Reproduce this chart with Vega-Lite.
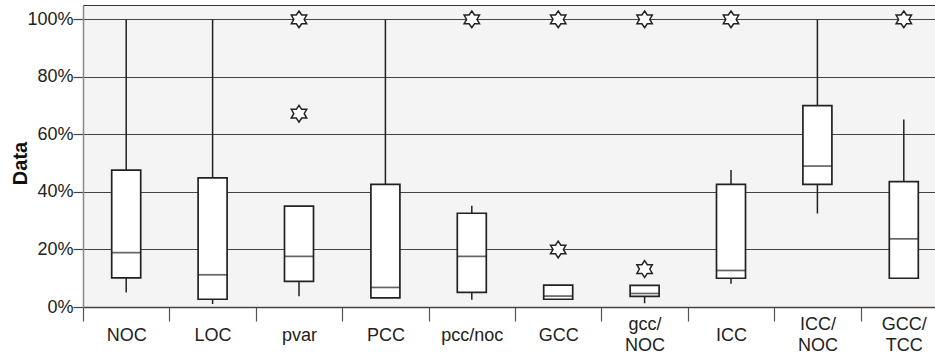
{
  "$schema": "https://vega.github.io/schema/vega-lite/v6.json",
  "autosize": "none",
  "width": 852,
  "height": 302,
  "padding": {"left": 83, "top": 5, "right": 0, "bottom": 51},
  "background": "white",
  "config": {
    "view": {"fill": "#f4f4f4", "stroke": "#333", "strokeWidth": 1},
    "font": "Liberation Sans"
  },
  "datasets": {
    "boxes": [
      {"cat": "NOC", "lo": 0.05, "q1": 0.101, "med": 0.189, "q3": 0.476, "hi": 1.0},
      {"cat": "LOC", "lo": 0.01, "q1": 0.027, "med": 0.112, "q3": 0.449, "hi": 1.0},
      {"cat": "pvar", "lo": 0.037, "q1": 0.089, "med": 0.176, "q3": 0.351, "hi": 0.351},
      {"cat": "PCC", "lo": 0.032, "q1": 0.032, "med": 0.068, "q3": 0.426, "hi": 1.0},
      {"cat": "pcc/noc", "lo": 0.025, "q1": 0.051, "med": 0.176, "q3": 0.326, "hi": 0.352},
      {"cat": "GCC", "lo": 0.027, "q1": 0.027, "med": 0.038, "q3": 0.076, "hi": 0.076},
      {"cat": "gcc/NOC", "lo": 0.013, "q1": 0.037, "med": 0.047, "q3": 0.075, "hi": 0.075},
      {"cat": "ICC", "lo": 0.081, "q1": 0.1, "med": 0.127, "q3": 0.426, "hi": 0.476},
      {"cat": "ICC/NOC", "lo": 0.325, "q1": 0.426, "med": 0.49, "q3": 0.7, "hi": 1.0},
      {"cat": "GCC/TCC", "lo": 0.1, "q1": 0.1, "med": 0.237, "q3": 0.436, "hi": 0.652}
    ],
    "outliers": [
      {"cat": "pvar", "v": 1.0},
      {"cat": "pvar", "v": 0.672},
      {"cat": "pcc/noc", "v": 1.0},
      {"cat": "GCC", "v": 1.0},
      {"cat": "GCC", "v": 0.2},
      {"cat": "gcc/NOC", "v": 1.0},
      {"cat": "gcc/NOC", "v": 0.132},
      {"cat": "ICC", "v": 1.0},
      {"cat": "GCC/TCC", "v": 1.0}
    ]
  },
  "encoding": {
    "x": {
      "field": "cat",
      "type": "nominal",
      "sort": ["NOC", "LOC", "pvar", "PCC", "pcc/noc", "GCC", "gcc/NOC", "ICC", "ICC/NOC", "GCC/TCC"],
      "scale": {"range": [0, 864], "paddingInner": 0, "paddingOuter": 0},
      "axis": {
        "title": null,
        "labelAngle": 0,
        "labelFont": "Liberation Sans",
        "labelFontSize": 18,
        "labelColor": "#222",
        "labelBaseline": "middle",
        "labelLineHeight": 21.7,
        "labelPadding": {
          "condition": {"test": "datum.value == 'gcc/NOC' || datum.value == 'ICC/NOC' || datum.value == 'GCC/TCC'", "value": 3.2},
          "value": 14
        },
        "labelExpr": "datum.label == 'pcc/noc' ? datum.label : split(replace(datum.label, '/', '/|'), '|')",
        "tickBand": "extent",
        "tickSize": 14,
        "tickColor": "#555",
        "tickWidth": 1.2,
        "domainColor": "#444",
        "domainWidth": 1.5,
        "grid": false
      }
    }
  },
  "layer": [
    {
      "data": {"name": "boxes"},
      "mark": {"type": "rule", "color": "#222", "strokeWidth": 1.5},
      "encoding": {
        "y": {
          "field": "lo",
          "type": "quantitative",
          "scale": {"domain": [0, 1.05], "nice": false, "zero": true},
          "axis": {
            "values": [0, 0.2, 0.4, 0.6, 0.8, 1.0],
            "format": ".0%",
            "labelFont": "Liberation Sans",
            "labelFontSize": 18,
            "labelColor": "#222",
            "labelPadding": 0,
            "tickSize": 10,
            "tickColor": "#444",
            "tickWidth": 1.2,
            "domainColor": "#888",
            "domainWidth": 1.5,
            "gridColor": "#444",
            "gridWidth": 1.1,
            "title": "Data",
            "titleFont": "Liberation Sans",
            "titleFontSize": 20,
            "titleFontWeight": "bold",
            "titleColor": "#111",
            "titleAngle": -90,
            "titleX": -63,
            "titleY": 158,
            "titleAlign": "center",
            "titleBaseline": "middle"
          }
        },
        "y2": {"field": "hi"}
      }
    },
    {
      "data": {"name": "boxes"},
      "mark": {"type": "bar", "width": 29, "fill": "white", "stroke": "#222", "strokeWidth": 1.7},
      "encoding": {
        "y": {"field": "q1", "type": "quantitative"},
        "y2": {"field": "q3"}
      }
    },
    {
      "data": {"name": "boxes"},
      "mark": {"type": "tick", "size": 29, "thickness": 1.7, "color": "#222"},
      "encoding": {
        "y": {"field": "med", "type": "quantitative"}
      }
    },
    {
      "data": {"name": "outliers"},
      "mark": {
        "type": "point",
        "shape": "M0,-1L0.32,-0.52L0.92,-0.52L0.62,0L0.92,0.52L0.32,0.52L0,1L-0.32,0.52L-0.92,0.52L-0.62,0L-0.92,-0.52L-0.32,-0.52Z",
        "size": 280,
        "filled": true,
        "fill": "white",
        "stroke": "#222",
        "strokeWidth": 1.5,
        "opacity": 1
      },
      "encoding": {
        "y": {"field": "v", "type": "quantitative"}
      }
    }
  ]
}
